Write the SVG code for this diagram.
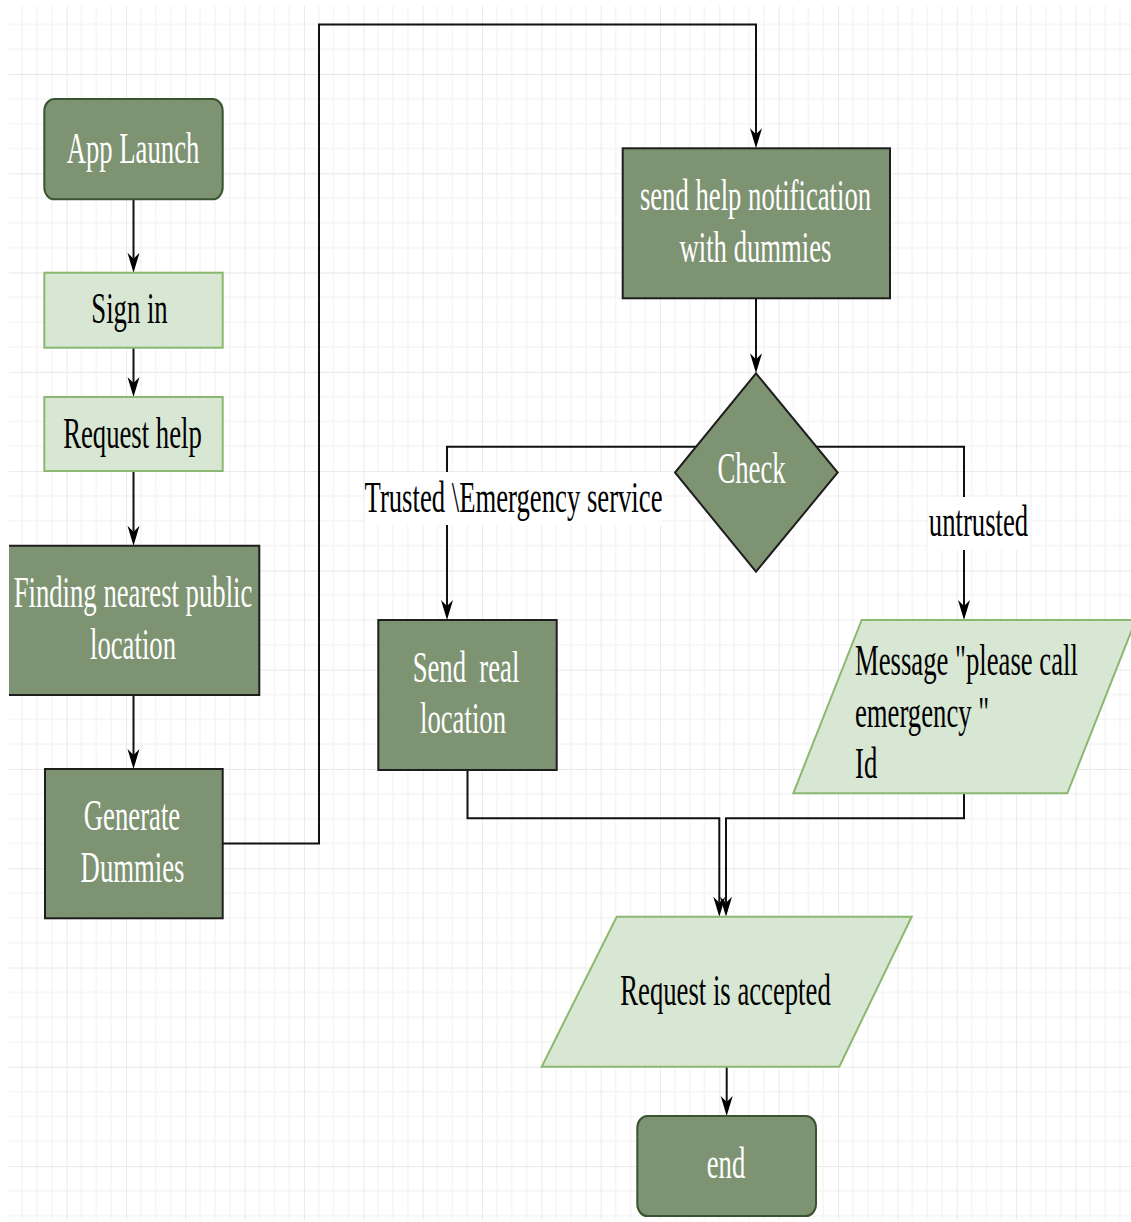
<svg xmlns="http://www.w3.org/2000/svg" width="1131" height="1222" viewBox="0 0 1131 1222">
  <style>
    .t { font-family: "Liberation Serif", "Times New Roman", serif; font-size: 26.7px; }
    .w { fill: #ffffff; }
    .k { fill: #000000; }
    .mid { text-anchor: middle; }
    .dark { fill: #7e9371; stroke: #3a5431; stroke-width: 2; }
    .darkb { fill: #7e9371; stroke: #1e1e1e; stroke-width: 2; }
    .light { fill: #d8e7d3; stroke: #8bb870; stroke-width: 2; }
    .edge { fill: none; stroke: #111111; stroke-width: 2; }
  </style>
  <defs>
    <pattern id="grid" patternUnits="userSpaceOnUse" x="7.3" y="-25.28" width="59.34" height="99.28">
      <path d="M14.835 0V99.28M29.67 0V99.28M44.505 0V99.28M0 24.82H59.34M0 49.64H59.34M0 74.46H59.34" stroke="#f5f5f5" stroke-width="1.6" fill="none"/>
      <path d="M0 0V99.28M0 0H59.34" stroke="#e8e8e8" stroke-width="1.8" fill="none"/>
    </pattern>
    <marker id="arrow" viewBox="-8 -8 24 16" markerWidth="24" markerHeight="16" refX="0" refY="0" orient="auto" markerUnits="userSpaceOnUse" overflow="visible">
      <path d="M14 0L-6 -6L0 0L-6 6Z" fill="#000000"/>
    </marker>
  </defs>

  <!-- page background and grid -->
  <rect x="0" y="0" width="1131" height="1222" fill="#ffffff"/>
  <rect x="9" y="6" width="1122" height="1214" fill="url(#grid)"/>

  <!-- connectors -->
  <g id="connectors">
    <path class="edge" d="M133.5 199V258.7" marker-end="url(#arrow)"/>
    <path class="edge" d="M133.5 347.7V383" marker-end="url(#arrow)"/>
    <path class="edge" d="M133.5 471V531.7" marker-end="url(#arrow)"/>
    <path class="edge" d="M133.5 695V755" marker-end="url(#arrow)"/>
    <path class="edge" d="M222.7 843.5H319V24.5H756V134.3" marker-end="url(#arrow)"/>
    <path class="edge" d="M756 298.3V359.3" marker-end="url(#arrow)"/>
    <path class="edge" d="M696 446.7H447V606" marker-end="url(#arrow)"/>
    <path class="edge" d="M816 446.7H964V606" marker-end="url(#arrow)"/>
    <path class="edge" d="M467.5 770V818.3H719.3V902.7" marker-end="url(#arrow)"/>
    <path class="edge" d="M964 793.3V818.3H726V902.7" marker-end="url(#arrow)"/>
    <path class="edge" d="M726.7 1066.7V1102" marker-end="url(#arrow)"/>
    <!-- edge labels -->
    <g id="label-trusted">
      <rect x="365" y="472" width="297" height="53" fill="#ffffff"/>
      <text class="t k mid" transform="translate(513.5,511.7) scale(1,1.673)">Trusted \Emergency service</text>
    </g>
    <g id="label-untrusted">
      <rect x="928" y="497" width="101" height="53" fill="#ffffff"/>
      <text class="t k mid" transform="translate(978.5,536) scale(1,1.673)">untrusted</text>
    </g>
  </g>

  <!-- nodes -->
  <g id="app-launch">
    <rect class="dark" x="44.3" y="99" width="178.4" height="100.3" rx="10" ry="12"/>
    <text class="t w mid" transform="translate(133,163.3) scale(1,1.673)">App Launch</text>
  </g>

  <g id="sign-in">
    <rect class="light" x="44.3" y="272.7" width="178.4" height="75"/>
    <text class="t k mid" transform="translate(129.5,323.3) scale(1,1.673)">Sign in</text>
  </g>

  <g id="request-help">
    <rect class="light" x="44.3" y="397" width="178.4" height="74"/>
    <text class="t k mid" transform="translate(132.5,447.5) scale(1,1.673)">Request help</text>
  </g>

  <g id="finding-location">
    <rect x="9" y="545.7" width="250.3" height="149.3" fill="#7e9371"/>
    <path d="M9 545.7H259.3V695H9" fill="none" stroke="#1e1e1e" stroke-width="2"/>
    <text class="t w mid" transform="translate(133,607.3) scale(1,1.673)">Finding nearest public</text>
    <text class="t w mid" transform="translate(133,659.3) scale(1,1.673)">location</text>
  </g>

  <g id="generate-dummies">
    <rect class="darkb" x="45" y="769" width="177.7" height="149.3"/>
    <text class="t w mid" transform="translate(132,830) scale(1,1.673)">Generate</text>
    <text class="t w mid" transform="translate(132.5,882.3) scale(1,1.673)">Dummies</text>
  </g>

  <g id="send-help-notification">
    <rect class="darkb" x="622.7" y="148.3" width="267.3" height="150"/>
    <text class="t w mid" transform="translate(755.5,210) scale(1,1.673)">send help notification</text>
    <text class="t w mid" transform="translate(755.5,261.7) scale(1,1.673)">with dummies</text>
  </g>

  <g id="check">
    <path class="darkb" d="M756 373.3L837.7 472.5L756 571.7L675 472.5Z"/>
    <text class="t w mid" transform="translate(751.5,483.3) scale(1,1.673)">Check</text>
  </g>

  <g id="send-real-location">
    <rect class="darkb" x="378.3" y="620" width="178.4" height="150"/>
    <text class="t w mid" transform="translate(466,681.7) scale(1,1.673)" xml:space="preserve">Send  real</text>
    <text class="t w mid" transform="translate(463,733.3) scale(1,1.673)">location</text>
  </g>

  <g id="message-emergency">
    <path class="light" d="M861.7 620H1135.7L1067.3 793.3H793.3Z"/>
    <text class="t k" transform="translate(855,675) scale(1,1.673)">Message "please call</text>
    <text class="t k" transform="translate(855,726.7) scale(1,1.673)">emergency "</text>
    <text class="t k" transform="translate(855,778.3) scale(1,1.673)">Id</text>
  </g>

  <g id="request-accepted">
    <path class="light" d="M616.7 916.7H911.7L839.3 1066.7H541.7Z"/>
    <text class="t k mid" transform="translate(725.5,1005) scale(1,1.673)">Request is accepted</text>
  </g>

  <g id="end">
    <rect class="dark" x="637.3" y="1116" width="178.7" height="100" rx="10" ry="12"/>
    <text class="t w mid" transform="translate(726,1178.3) scale(1,1.673)">end</text>
  </g>
</svg>
